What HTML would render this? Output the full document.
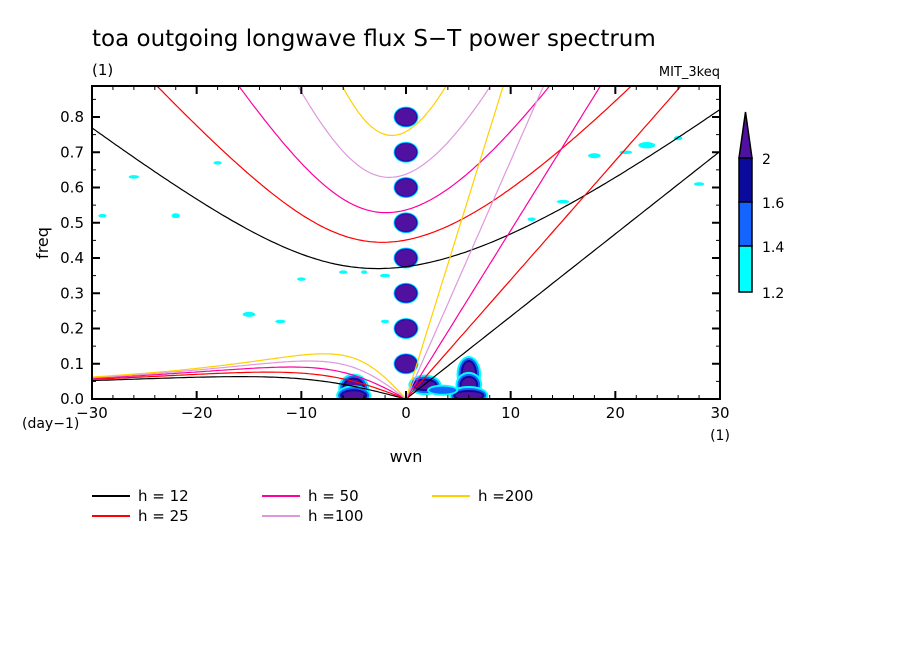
<!DOCTYPE html>
<html><head><meta charset="utf-8"><style>
body{margin:0;background:#fff;}
svg text{font-family:"DejaVu Sans","Liberation Sans",sans-serif;}
</style></head><body>
<svg id="chart" width="904" height="654" xmlns="http://www.w3.org/2000/svg">
<rect width="904" height="654" fill="#fff"/>
<text x="92" y="46" font-size="23" fill="#000">toa outgoing longwave flux S−T power spectrum</text>
<text x="92" y="75" font-size="15">(1)</text>
<text x="720" y="76" font-size="13" text-anchor="end">MIT_3keq</text>
<defs><clipPath id="pc"><rect x="92" y="86" width="628" height="313"/></clipPath></defs>
<g id="blobs" clip-path="url(#pc)"></g>
<g id="curves" clip-path="url(#pc)"></g>
<rect x="92" y="86" width="628" height="313" fill="none" stroke="#000" stroke-width="2"/>
<g id="axes"></g>
<text x="48" y="243" font-size="16" transform="rotate(-90 48 243)" text-anchor="middle">freq</text>
<text x="22" y="428" font-size="14">(day−1)</text>
<text x="720" y="440" font-size="14" text-anchor="middle">(1)</text>
<text x="406" y="462" font-size="16" text-anchor="middle">wvn</text>
<g id="legend"></g>
<g>
<polygon points="739,158 752,158 745.5,112" fill="#5010a0" stroke="#000" stroke-width="1.5"/>
<rect x="739" y="158" width="13" height="44" fill="#0a0a9c" stroke="#000" stroke-width="1.5"/>
<rect x="739" y="202" width="13" height="44" fill="#1464ff" stroke="#000" stroke-width="1.5"/>
<rect x="739" y="246" width="13" height="46" fill="#00ffff" stroke="#000" stroke-width="1.5"/>
<text x="762" y="164" font-size="14">2</text>
<text x="762" y="208" font-size="14">1.6</text>
<text x="762" y="252" font-size="14">1.4</text>
<text x="762" y="298" font-size="14">1.2</text>
</g>
</svg>
<script>
const hValues=[12,25,50,100,200];
const hColors=['#000000','#ff0000','#ff00a0','#dd99dd','#ffd000'];
const hLabels=['h = 12','h = 25','h = 50','h =100','h =200'];
const xTicks=[-30,-20,-10,0,10,20,30];
const yTicks=[0,0.1,0.2,0.3,0.4,0.5,0.6,0.7,0.8];
// significant power blobs: [wvn, freq, rx(wvn), ry(freq), level]
const blobK=[0,0,0,0,0,0,0,0,-5,-5,6,6,6,1.8,3.5,-29,-26,-22,-18,-15,-12,-10,-6,-4,-2,-2,23,26,28,18,21,15,12];
const blobF=[0.1,0.2,0.3,0.4,0.5,0.6,0.7,0.8,0.03,0.01,0.07,0.04,0.01,0.04,0.025,0.52,0.63,0.52,0.67,0.24,0.22,0.34,0.36,0.36,0.35,0.22,0.72,0.74,0.61,0.69,0.70,0.56,0.51];
const blobRX=[1.0,1.0,1.0,1.0,1.0,1.0,1.0,1.0,0.9,1.1,0.6,0.7,1.3,1.0,1.3,0.4,0.5,0.4,0.4,0.6,0.5,0.4,0.4,0.3,0.5,0.4,0.8,0.4,0.5,0.6,0.6,0.6,0.4];
const blobRY=[0.024,0.024,0.024,0.024,0.024,0.024,0.024,0.024,0.025,0.012,0.035,0.02,0.01,0.012,0.01,0.005,0.005,0.007,0.005,0.007,0.005,0.005,0.005,0.005,0.005,0.005,0.009,0.006,0.005,0.007,0.005,0.005,0.005];
const blobL=[3,3,3,3,3,3,3,3,3,3,3,3,3,3,1,0,0,0,0,0,0,0,0,0,0,0,0,0,0,0,0,0,0];
const NS='http://www.w3.org/2000/svg';
const X0=92,X1=720,Y0=399,FPX=352.5;
const xs=k=>X0+(k+30)*(X1-X0)/60;
const ys=f=>Y0-f*FPX;
function el(t,a,p){const e=document.createElementNS(NS,t);for(const k in a)e.setAttribute(k,a[k]);p.appendChild(e);return e;}
const levelCol=['#00ffff','#1464ff','#0a0a9c','#5010a0'];
const bg=document.getElementById('blobs');
for(let i=0;i<blobK.length;i++){
  for(let l=0;l<=blobL[i];l++){
    const pad=(blobL[i]-l)*(blobK[i]===0?0.7:2);
    const e=el('ellipse',{cx:xs(blobK[i]),cy:ys(blobF[i]),rx:blobRX[i]*10.47+pad,ry:blobRY[i]*FPX+pad,fill:levelCol[l]},bg);
    
    
  }
}
// dispersion relations
const g=9.81,Re=6.371e6,beta=2.29e-11,day=86400;
function cub(c,k,w0){let w=w0;for(let i=0;i<60;i++){const f=w*w*w-(c*c*k*k+3*beta*c)*w-beta*c*c*k;const d=3*w*w-(c*c*k*k+3*beta*c);w-=f/d;}return w;}
const cg=document.getElementById('curves');
hValues.forEach((h,j)=>{
  const c=Math.sqrt(g*h);const conv=day/(2*Math.PI);
  let kel=[],ig=[],er=[];
  for(let s=-30;s<=30.001;s+=0.25){
    const k=s/Re;
    if(s>=0)kel.push([xs(s),ys(c*k*conv)]);
    ig.push([xs(s),ys(cub(c,k,Math.sqrt(3*beta*c+c*c*k*k)*1.5)*conv)]);
    if(s<=0){const w0=-beta*c*c*k/(c*c*k*k+3*beta*c);er.push([xs(s),ys(cub(c,k,w0)*conv)]);}
  }
  [['kelvin',kel],['ig1',ig],['er1',er]].forEach(([n,pts])=>{
    const p=el('polyline',{points:pts.map(q=>q[0].toFixed(1)+','+q[1].toFixed(1)).join(' '),fill:'none',stroke:hColors[j],'stroke-width':1.2},cg);
    
    
  });
});
const ax=document.getElementById('axes');
xTicks.forEach(t=>{
  el('line',{x1:xs(t),x2:xs(t),y1:Y0,y2:Y0-8,stroke:'#000','stroke-width':2},ax);
  el('line',{x1:xs(t),x2:xs(t),y1:86,y2:94,stroke:'#000','stroke-width':2},ax);
  const tx=el('text',{x:xs(t),y:418,'font-size':15,'text-anchor':'middle'},ax);
  tx.textContent=t<0?'−'+(-t):String(t);
  
  
});
for(let t=-28;t<=28;t+=2){if(t%10){el('line',{x1:xs(t),x2:xs(t),y1:Y0,y2:Y0-4,stroke:'#000'},ax);el('line',{x1:xs(t),x2:xs(t),y1:86,y2:90,stroke:'#000'},ax);}}
yTicks.forEach(t=>{
  el('line',{x1:X0,x2:X0+8,y1:ys(t),y2:ys(t),stroke:'#000','stroke-width':2},ax);
  el('line',{x1:X1,x2:X1-8,y1:ys(t),y2:ys(t),stroke:'#000','stroke-width':2},ax);
  el('line',{x1:X0,x2:X0+4,y1:ys(t+0.05),y2:ys(t+0.05),stroke:'#000'},ax);
  el('line',{x1:X1,x2:X1-4,y1:ys(t+0.05),y2:ys(t+0.05),stroke:'#000'},ax);
  const tx=el('text',{x:84,y:ys(t)+5,'font-size':15,'text-anchor':'end'},ax);
  tx.textContent=t.toFixed(1);
  
  
});
const lg=document.getElementById('legend');
const lx=[92,262,432,92,262],ly=[496,496,496,516,516];
const order=[0,2,4,1,3];
order.forEach((j,i)=>{
  const gg=el('g',{},lg);
  
  
  el('line',{x1:lx[i],x2:lx[i]+38,y1:ly[i],y2:ly[i],stroke:hColors[j],'stroke-width':2},gg);
  const t=el('text',{x:lx[i]+46,y:ly[i]+5,'font-size':15},gg);t.textContent=hLabels[j];
});
</script>
</body></html>
